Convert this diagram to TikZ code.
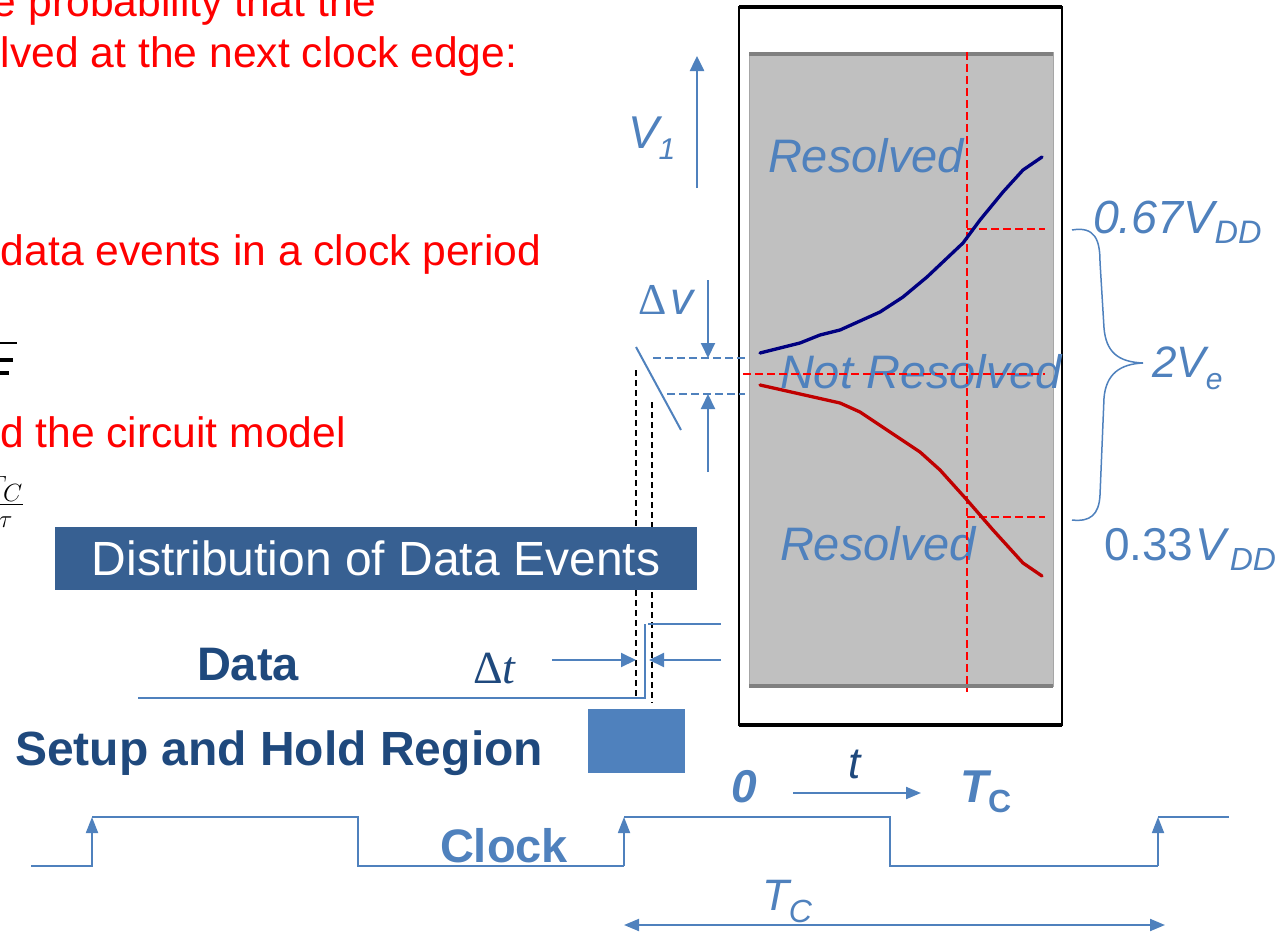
\documentclass[tikz,border=0pt]{standalone}
\usepackage{fontspec}
\setmainfont{Liberation Sans}
\newfontfamily\seriffont{Liberation Serif}
\usetikzlibrary{arrows.meta}
\definecolor{accent}{HTML}{4F81BD}
\definecolor{deepblue}{HTML}{1F497D}
\definecolor{boxblue}{HTML}{376092}
\definecolor{panel}{HTML}{C0C0C0}
\definecolor{paneledge}{HTML}{808080}
\definecolor{navycurve}{HTML}{000080}
\definecolor{redcurve}{HTML}{C00000}
\newcommand\fs[1]{\fontsize{#1}{#1}\selectfont}
\newcommand\lowered[3]{\raisebox{-#1pt}{\fs{#2}#3}}
\tikzset{
  txt/.style={anchor=base west, inner sep=0pt, outer sep=0pt},
  redtxt/.style={txt, text=red, font=\fs{42.6}},
  bluelab/.style={txt, text=accent, font=\fs{47}\itshape},
  tip/.style={-{Triangle[length=15pt,width=14pt]}},
  bluearrow/.style={draw=accent, line width=2pt, tip},
  wave/.style={draw=accent, line width=1.8pt},
  clockedge/.style={draw=accent, line width=1.8pt, -{Triangle[length=16pt,width=12pt]}},
  guide/.style={draw=accent, line width=1.8pt, dash pattern=on 8pt off 4pt},
  blackdash/.style={draw=black, line width=2pt, dash pattern=on 6pt off 4pt},
  reddash/.style={draw=red, line width=2pt, dash pattern=on 8pt off 4pt},
  curve/.style={line width=3.3pt, line join=round, line cap=round}
}
\begin{document}
\begin{tikzpicture}[x=1pt,y=-1pt]
\useasboundingbox (0,0) rectangle (1284,934);

% red explanatory lines
\node[redtxt] (l1) at (-7,17) {e probability that the};
\node[redtxt] (l2) at (1,67) {lved at the next clock edge:};
\node[redtxt] (l3) at (1,265) {data events in a clock period};
\node[redtxt] (l4) at (0,447) {d the circuit model};

% black formula fragments at the left edge
\draw[line width=1.5pt] (-10,343) -- (17,343);
\draw[line width=4pt] (-10,360) -- (13,360);
\draw[line width=4pt] (-10,373) -- (9,373);
\node[txt, anchor=base east] (frac) at (24,510) {\fs{40}$\displaystyle\frac{T_C}{\tau}$};

% outer frame of the plot
\draw[line width=1.5pt] (739,7) rectangle (1062,725);
\draw[line width=4pt] (739,7) -- (1062,7);
\draw[line width=4.5pt] (739,725) -- (1062,725);

% gray plot panel
\path[fill=panel, draw=paneledge!70, line width=1pt] (749,53) rectangle (1053,686);
\draw[paneledge, line width=4pt] (749,54) -- (1053,54);
\draw[paneledge, line width=4pt] (749,686) -- (1053,686);

% region labels
\node[bluelab] (res1) at (768,172) {Resolved};
\node[bluelab] (nres) at (780,388) {Not Resolved};
\node[bluelab] (res2) at (780,560) {Resolved};

% thresholds and sampling instant
\coordinate (sampTop) at (967,52);
\coordinate (sampBot) at (967,692);
\draw[reddash] (sampTop) -- (sampBot);
\draw[reddash] (743,374) -- (1045,374);
\draw[reddash] (967,229) -- (1045,229);
\draw[reddash] (967,517) -- (1045,517);

% the two diverging node voltages
\draw[curve, navycurve] (760,353) -- (800,343) -- (820,335) -- (840,330) -- (880,312)
  -- (903,297) -- (927,277) -- (963,243) -- (980,220) -- (1003,192) -- (1023,170) -- (1042,157);
\draw[curve, redcurve] (760,385) -- (800,394) -- (840,403) -- (860,412) -- (890,432)
  -- (920,452) -- (940,470) -- (967,500) -- (993,530) -- (1023,563) -- (1042,576);

% brace and voltage labels
\draw[accent, line width=1.5pt]
  (1072,230) .. controls (1095,226) and (1100,240) .. (1100,262)
  -- (1104,328) .. controls (1106,352) and (1118,362) .. (1143,363)
  .. controls (1120,364) and (1106,374) .. (1104,398)
  -- (1100,495) .. controls (1099,515) and (1090,522) .. (1072,520);
\node[bluelab, font=\fs{46.5}\itshape] (v67) at (1093,233) {0.67V\lowered{10}{32.5}{DD}};
\node[bluelab, font=\fs{44}\itshape] (ve) at (1152,377) {2V\lowered{12}{30}{e}};
\node[txt, text=accent, font=\fs{46}] (v33) at (1104,560) {0.33\hspace{2pt}\textit{V}\lowered{10}{32}{\textit{DD}}};

% V1 axis
\coordinate (v1a) at (697,188);
\coordinate (v1b) at (697,56);
\draw[bluearrow, line width=2.5pt] (v1a) -- (v1b);
\node[bluelab, font=\fs{46}\itshape] (v1) at (628,148) {V\lowered{11}{30}{1}};

% delta-v window
\node[txt, text=accent] (dv) at (638,314) {{\seriffont\fs{44}Δ}\hspace{4pt}{\fs{46}\itshape v}};
\coordinate (dvTop) at (708,358);
\coordinate (dvBot) at (708,394);
\draw[guide] (653,358) -- (745,358);
\draw[guide] (667,394) -- (745,394);
\draw[bluearrow] (708,280) -- (dvTop);
\draw[bluearrow] (708,472) -- (dvBot);
\draw[accent, line width=2pt] (636,347) -- (681,430);

% setup / hold window edges
\coordinate (w1a) at (636,370);
\coordinate (w1b) at (636,698);
\coordinate (w2a) at (652,402);
\coordinate (w2b) at (652,703);
\draw[blackdash] (w1a) -- (w1b);
\draw[blackdash] (w2a) -- (w2b);

% distribution banner
\node[fill=boxblue, minimum width=642pt, minimum height=63pt, inner sep=0pt,
      text=white, font=\fs{48}] (dist) at (376,558.5) {Distribution of Data Events};

% data waveform
\draw[wave] (138,698) -- (645,698) -- (645,624);
\draw[wave] (648,624) -- (721,624);
\node[txt, text=deepblue, font=\fs{47}\bfseries] (data) at (197,680) {Data};
\node[txt, text=deepblue] (dt) at (473,683) {{\seriffont\fs{46}Δ\itshape t}};
\coordinate (dtL) at (636,660);
\coordinate (dtR) at (649,660);
\draw[bluearrow] (552,660) -- (dtL);
\draw[bluearrow] (721,660) -- (dtR);

% setup and hold region
\node[txt, text=deepblue, font=\fs{48}\bfseries] (shr) at (15,765) {Setup and Hold Region};
\node[fill=accent, minimum width=97pt, minimum height=64pt, inner sep=0pt] (shbox) at (636.5,741) {};

% time axis of the plot
\node[txt, text=accent, font=\fs{46}\bfseries\itshape] (t0) at (731,802) {0};
\coordinate (ta) at (793,793);
\coordinate (tb) at (921,793);
\draw[accent, line width=2pt, -{Triangle[length=15pt,width=12pt]}] (ta) -- (tb);
\node[txt, text=deepblue, font=\fs{44}\itshape] (tlab) at (848,778) {t};
\node[txt, text=accent, font=\fs{46}\bfseries\itshape] (tc1) at (960,802) {T\lowered{10}{32}{\upshape C}};

% clock waveform
\draw[clockedge] (31,866) -- (92,866) -- (92,817);
\draw[wave] (92,817) -- (358,817) -- (358,866) -- (624,866);
\draw[clockedge] (624,866) -- (624,817);
\draw[wave] (624,817) -- (890,817) -- (890,866) -- (1158,866);
\draw[clockedge] (1158,866) -- (1158,817);
\draw[wave] (1158,817) -- (1229,817);
\node[txt, text=accent, font=\fs{47}\bfseries] (clk) at (440,862) {Clock};

% clock period
\coordinate (pa) at (624,925);
\coordinate (pb) at (1165,925);
\draw[accent, line width=2pt, {Triangle[length=15pt,width=12pt]}-{Triangle[length=15pt,width=12pt]}] (pa) -- (pb);
\node[txt, text=accent, font=\fs{44}\itshape] (tc2) at (762,910) {T\lowered{12}{32}{C}};
\end{tikzpicture}
\end{document}
